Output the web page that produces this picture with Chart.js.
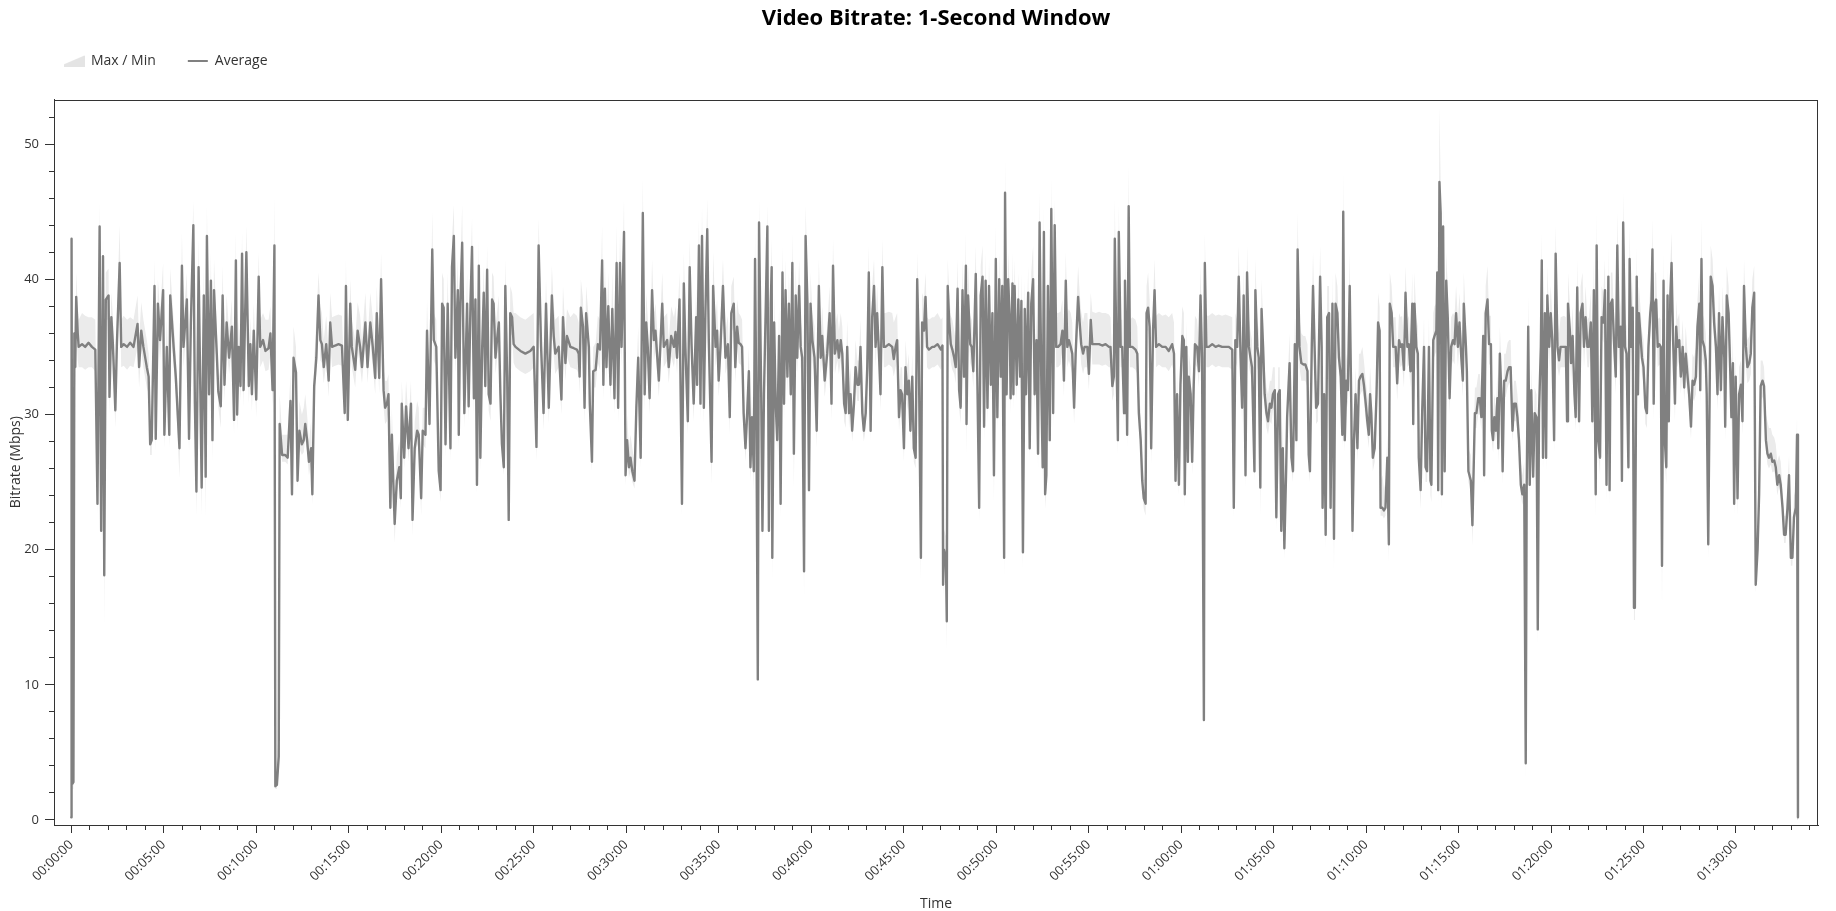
<!DOCTYPE html>
<html><head><meta charset="utf-8">
<script src="https://cdn.jsdelivr.net/npm/chart.js"></script>
<style>html,body{margin:0;padding:0;background:#fff}#wrap{width:1836px;height:911px;position:relative}</style>
</head><body><div id="wrap"><canvas id="c"></canvas></div>
<script>
// ---- data (time in seconds, bitrate in Mbps) ----
const seconds = [
0,1,4,7,10,13,16,21,24,35,45,56,67,78,85,92,97,103,107,112,121,124,130,135,143,148,157,162,170,181,191,202,215,220,227,234,245,251,256,261,270,274,281,288,298,302,310,318,321,332,339,351,359,364,375,382,388,396,401,406,413,418,423,430,436,440,447,453,458,463,472,477,485,491,497,504,512,521,528,534,538,
543,549,554,559,568,576,581,586,592,600,608,613,622,630,640,646,653,659,662,667,673,676,684,694,702,711,716,721,729,734,740,748,754,759,765,771,778,782,788,795,802,808,813,819,827,835,840,846,856,867,878,887,891,897,905,910,921,929,937,943,954,961,970,978,986,991,999,1005,1013,1018,1024,1029,1035,1040,1045,1049,1056,1064,1069,1072,1080,1086,1094,1102,1107,
1114,1122,1127,1135,1140,1149,1154,1162,1171,1176,1184,1192,1198,1203,1208,1214,1221,1230,1235,1241,1246,1254,1257,1262,1268,1275,1284,1289,1295,1300,1306,1311,1316,1322,1327,1333,1338,1343,1349,1354,1360,1365,1370,1376,1381,1387,1392,1397,1403,1408,1414,1419,1424,1430,1435,1441,1457,1473,1489,1500,1509,1516,1524,1532,1540,1549,1559,1565,1570,1581,1590,1595,1603,1608,1619,1630,1640,1646,1649,1653,1660,1665,1670,
1679,1682,1689,1693,1701,1708,1715,1722,1726,1731,1736,1742,1749,1755,1762,1769,1774,1780,1785,1793,1798,1803,1809,1814,1820,1827,1833,1839,1847,1854,1860,1865,1870,1876,1884,1890,1895,1906,1917,1922,1933,1938,1946,1955,1960,1965,1973,1981,1987,1992,2000,2006,2012,2019,2027,2030,2036,2041,2046,2052,2057,2063,2068,2077,2082,2090,2095,2100,2106,2114,2122,2130,2136,2141,2149,2154,2160,2165,2171,2176,2181,2187,2192,2198,2203,2208,2214,2218,2222,2227,2231,2238,
2242,2247,2253,2258,2263,2269,2272,2274,2280,2285,2290,2296,2301,2307,2312,2317,2323,2328,2334,2339,2344,2350,2355,2361,2366,2371,2377,2382,2388,2393,2398,2404,2411,2418,2425,2431,2436,2444,2452,2460,2466,2471,2477,2485,2490,2496,2501,2507,2512,2517,2523,2528,2533,2539,2544,2550,2555,2560,2566,2571,2577,2582,2587,2593,2598,2604,2609,2614,2620,2625,2631,2636,2641,2652,2663,2668,2674,2679,2685,2690,2695,2701,2706,2712,2717,2722,2728,2733,2739,2744,2749,2756,2760,2766,2771,2776,2782,2793,
2799,2810,2821,2826,2828,2831,2837,2840,2843,2848,2853,2858,2864,2869,2875,2880,2885,2891,2896,2902,2904,2909,2916,2921,2926,2934,2939,2945,2950,2956,2961,2966,2972,2977,2983,2988,2993,2999,3004,3010,3015,3020,3026,3029,3034,3039,3044,3047,3053,3056,3060,3067,3072,3078,3082,3087,3093,3097,3104,3109,3114,3120,3125,3131,3136,3141,3147,3151,3155,3159,3163,3168,3174,3179,3185,3190,3195,3201,3209,3215,3220,3226,3231,3236,3242,3247,3253,3258,3266,3271,3276,3282,3287,3296,3301,3307,3312,3323,3334,3344,3355,3366,
3371,3377,3382,3385,3390,3395,3398,3404,3409,3415,3418,3422,3425,3430,3434,3442,3452,3458,3463,3469,3474,3479,3485,3488,3493,3498,3503,3509,3514,3519,3528,3539,3550,3560,3571,3577,3582,3587,3593,3598,3604,3609,3612,3617,3622,3625,3631,3636,3641,3645,3652,3658,3663,3668,3674,3677,3682,3690,3701,3712,3722,3733,3744,3755,3766,3771,3776,3782,3787,3793,3798,3803,3809,3814,3820,3825,3830,3838,3841,3847,3852,3857,3861,3866,3871,3877,3882,3888,3893,3898,3904,3909,3915,3920,3925,3930,3935,3941,3944,
3952,3958,3963,3969,3974,3978,3984,3990,3997,4003,4010,4014,4018,4024,4028,4033,4038,4044,4051,4056,4059,4064,4069,4074,4080,4085,4091,4096,4101,4107,4112,4118,4123,4126,4131,4136,4141,4147,4152,4156,4161,4166,4172,4177,4182,4188,4193,4199,4204,4209,4213,4217,4222,4228,4234,4239,4244,4247,4253,4258,4263,4269,4274,4277,4283,4288,4296,4301,4307,4312,4317,4323,4328,4334,4339,4344,4350,4353,4357,4363,4368,4371,4377,4382,4388,4393,4398,4404,4409,4412,4418,4422,4428,4431,4434,4438,4442,4446,4450,4455,4460,4465,4471,4476,4482,4487,4492,4498,4503,4509,4514,4517,
4524,4527,4532,4540,4545,4553,4558,4564,4569,4574,4580,4583,4588,4594,4599,4605,4608,4612,4616,4621,4626,4629,4634,4639,4643,4648,4653,4659,4664,4669,4675,4680,4686,4691,4696,4702,4707,4713,4718,4721,4726,4731,4736,4742,4747,4753,4757,4761,4767,4770,4774,4780,4784,4788,4794,4799,4804,4810,4815,4821,4826,4831,4842,4848,4852,4855,4861,4865,4870,4876,4880,4885,4891,4896,4902,4907,4912,4918,4923,4929,4934,4939,4945,4948,4953,4959,4964,4970,4975,4980,4986,4990,4994,4999,5004,5010,5015,5020,5026,5030,5034,5040,5045,5051,5055,5060,5065,5069,5072,5078,5082,5085,
5089,5095,5100,5106,5111,5116,5122,5126,5129,5133,5137,5141,5146,5151,5156,5160,5165,5169,5174,5178,5182,5187,5191,5196,5202,5206,5210,5216,5221,5227,5232,5237,5243,5248,5254,5259,5264,5270,5275,5281,5284,5288,5291,5297,5302,5305,5310,5315,5318,5324,5329,5335,5340,5345,5351,5356,5362,5365,5370,5376,5381,5385,5390,5394,5399,5405,5410,5416,5421,5426,5432,5437,5443,5448,5453,5459,5464,5470,5475,5480,5486,5491,5497,5502,5507,5513,5518,5524,5529,5534,5540,5545,5551,5556,5561,5567,5572,5578,5583,5588,5594,5598,5601
];
const average = [
0.2,43,2.7,2.8,36,33.5,38.7,36,35,35.2,35,35.3,35,34.8,23.4,43.9,21.4,41.7,18.1,38.5,38.8,31.3,37.2,35.2,30.3,35.2,41.2,35,35.2,35,35.3,35,36.7,33.5,36.2,35,33.5,32.8,27.8,28.1,39.5,28.2,38.2,35.5,39.2,28.5,35,28.5,38.8,35,32.8,27.5,41,35,38.5,28.2,36.8,44,30.8,24.3,40.9,32.8,24.6,38.8,25.4,43.2,31.5,39.9,28.1,39.2,34.5,31.7,30.6,38.8,32.2,36.8,34.2,36.5,29.6,41.4,30,
35,32.1,41.9,31.8,42,32.1,35.2,31.5,36.2,31.1,40.2,35,35.5,34.7,34.9,36,31.8,42.5,2.5,2.6,4.7,29.3,27,27,26.8,31,24.1,34.2,33.1,25.1,28.8,27.8,28.1,29.3,28.1,26.5,27.5,24.1,32.1,34.2,38.8,35.5,35.2,33.5,35.2,32.5,36.8,35,35.1,35.2,35.1,30.1,39.5,29.6,38.2,35,33.3,36.2,35,33.5,36.8,33.5,36.8,35,32.7,37.5,32.7,40,31.8,30.5,30.8,31.5,23.1,28.5,24.8,21.9,25.1,26.1,23.8,30.8,26.8,30.6,27.5,30.8,22.2,
27.5,28.8,28.5,23.8,28.8,28.5,36.2,29.3,42.2,35.5,35,25.8,24.4,38.2,37.9,27.8,38.2,27.5,40.9,43.2,34.2,39.2,28.5,38.2,42.7,30.1,38.2,30.6,38.2,42.4,31.2,38.5,24.8,41,26.8,35,39,32.1,40.7,31.5,30.8,38.5,38.2,34.2,35.5,36.8,31.5,27.8,26.1,39.5,32.8,22.2,37.5,37.2,35.2,35,34.7,34.5,34.7,35,27.6,42.5,35,30.1,38.2,30.5,38.8,35.8,34.5,35,31.1,37.2,33.8,35.8,35,34.9,34.8,34.5,32.8,37.9,36.5,30.5,37.5,
35,30.8,26.5,33.2,33.3,35.2,34.8,41.4,32.2,39.3,33.5,38,32.2,37.8,31.2,41.2,30.5,41.2,35,43.5,25.5,28.1,26.1,26.8,25.8,25.1,30.5,34.2,26.8,44.9,31.5,36.8,35,31.2,39.2,35.5,36.2,32.5,38.2,35,35.5,33.5,35.8,35,36.1,34.2,38.5,23.4,39.7,35,29.5,40.9,35.2,30.8,37.2,32.2,42.5,30.8,43.2,30.5,37.5,43.7,35.5,26.5,39.5,35,36.2,32.5,35,39.5,34.2,35.2,29.8,37.5,38.2,33.5,36.5,35.3,35.2,35,30.1,27.5,29.8,33.2,26.1,29.8,25.8,41.5,31.5,10.4,44.2,31.5,
21.4,31.5,38.2,43.9,21.4,38.2,40.9,19.4,36.8,30.8,28.1,35.8,23.4,40.5,30.8,39.2,32.8,38.2,31.5,41.2,27.1,38.8,34.2,39.5,35,34.2,18.4,43.2,38.2,24.4,38.2,35.5,34.2,28.8,39.5,34.2,35.8,32.5,34.5,37.5,30.8,41,34.5,35.5,34.2,35.5,34.5,30.8,30.1,35,30.1,31.5,28.8,30.8,33.5,32.2,32.2,35,30.1,28.8,30.1,33.5,40.5,28.8,37.2,39.5,35,37.5,34.5,31.5,40.9,35,35,35.2,35,34.1,35,35.5,29.8,31.8,31.5,27.5,33.5,31.5,32.5,28.8,32.8,27.5,26.8,40,35,19.4,36.8,36.2,38.7,35,34.8,35,
35,35.2,34.8,35.1,17.4,20,19.4,14.7,39.5,36.8,35.2,34.8,34.2,33.5,39.3,31.8,30.5,39.2,32.8,41,29.3,38.8,35.2,35,33.2,40.4,32.8,23.1,38.8,40.2,29.1,39.9,30.5,39.5,32.2,37.5,25.5,41.5,29.8,40,32.8,39.5,19.4,46.4,31.5,40,37.2,31.2,39.7,31.5,39.5,32.2,38.5,32.8,38.4,19.8,37.8,31.5,39,27.5,38.2,40,31.5,35.5,27.1,44.2,31.5,26.1,43.5,24.1,25.5,39.5,28.1,45.2,30.1,44,35,35,35.2,36.2,32.5,39.9,35,35.5,35,34.5,30.5,34.5,38.7,36.8,35.2,34.5,35,35,33,37,35.2,35.2,35.2,35.1,35.2,35,
35,32.1,32.8,43,35,28.1,43.5,35,35,30.1,39.9,35,28.5,45.4,35,35,34.8,34.5,30.1,28.1,25.1,23.8,23.4,37.5,37.9,36.5,27.5,36.2,39.2,35,35.2,35,35,34.7,35.2,34.5,25.1,31.5,24.8,32.2,35.8,35.5,24.1,35,26.5,32.8,31.5,26.5,32.2,35.2,35,33.2,38.8,34.2,7.4,41.2,35,35,35.2,35,35.1,35,35,35,34.8,23.1,35.5,35,40.2,34.2,30.5,38.8,25.5,40.5,35,34.2,33.5,25.8,39.2,35,34.2,24.6,37.8,35,31.5,30.1,29.5,30.8,30.5,31.5,31.8,22.4,31.5,31.8,21.4,27.5,20.1,26.1,29.8,
33.8,26.8,25.8,35.2,28.1,42.2,35,33.8,33.7,33.7,33.2,27,25.8,35.2,39.5,35,30.5,30.8,40.2,35,23.1,31.5,21.1,37.2,37.5,23.1,38.2,20.8,38.2,37.5,34.2,32.8,28.5,45,28.1,32.5,31.8,39.5,30.8,21.4,28.1,31.5,27.5,32.5,32.8,33,32.2,30.8,29.5,28.5,31.5,30.1,26.8,27.5,31.5,36.8,36.2,23.1,23.1,22.9,23.1,26.8,20.4,38.2,37.5,35,35,32.3,35.5,35,35.2,33.3,39,35,35.2,33.2,38.2,29.3,38.2,35,34.5,26.8,24.4,30.1,35,26.1,25.8,35,25.1,24.8,35.5,35.8,36.2,40.5,24.4,47.2,44.9,24.1,43.9,25.8,39.9,37.2,31.2,35,35.5,35.2,37.5,35,36.8,34.2,32.5,38.2,
35,33.2,25.8,25.1,21.8,30.1,30.1,31.2,31.2,29.8,35.8,25.5,37.5,38.5,35.2,35.2,28.8,28.1,29.8,28.8,31.2,27.5,34.5,31.5,25.8,32.5,32.5,33.2,33.5,33.5,28.8,30.8,30.8,29.8,28.1,24.8,24.1,24.8,4.2,24.4,36.5,24.8,31.8,25.4,30.1,29.8,14.1,30.1,35,41.4,26.8,37.5,26.8,38.8,35,37.5,35.5,28.1,41.9,35,34,35,35,35,29.5,38.2,36.2,33.8,35.8,31.5,29.8,39.4,29.5,37.5,38.2,35,37.2,35,35,36.8,29.5,39.2,24.1,42.5,28.1,26.8,37.2,36.8,39.2,24.8,40.2,24.4,38.2,38.5,35.5,32.8,42.5,35,36.5,25.1,44.2,35,34.5,26.1,41.5,35,37.9,15.7,15.7,40.2,31.5,37.5,
36.2,34.2,33.5,30.5,30.1,35,37.5,38.5,42.2,30.8,38.2,38.5,35,35.2,35,18.8,39.9,28.1,26.1,38.8,29.5,38.8,41.2,35.5,30.8,36.5,35,35.5,32.8,35,32,34.5,32.8,31.5,29.1,32.5,32.2,32.8,36.5,38.2,31.8,41.5,35.5,35,34,31.5,20.4,32.8,40.2,39.5,36.8,35,31.5,37.5,31.8,37.2,34.2,29.1,38.8,37.5,33.5,29.8,33.8,23.4,32.8,23.8,31.5,32.2,29.5,39.5,35,33.5,33.8,34.5,37.9,39,17.4,20,24.1,32.1,32.5,32.1,28.1,27.1,26.8,27.1,26.5,26.6,26.1,24.8,25.5,24.8,23.1,21.1,21.1,23.1,25.5,19.4,19.4,22.4,23.1,28.5,0.2
];
const maximum = [
1,44.5,6.5,6.5,38,35.5,40.5,38,37,37.5,37.3,37.2,37.2,37,25,45.8,23,43.5,20,40.5,40.8,33,39,37.3,32,37.5,44,37,37.3,37,37.2,37,38.8,35.5,38.3,37,35.5,34.5,29.5,30,41.5,30,40,37.5,41.2,30.5,37,30,40.8,37,34.5,29.5,43.5,37,40.5,30,38.8,45.8,33,26,43,35,26.5,41,27.5,45.5,33.5,42,30,41.5,36.5,33.5,32.5,41,34,38.8,36.2,38.5,31.5,43.5,32,
37,34,43.5,33.5,44,34,37.2,33.5,38.2,33,42,37,37.5,37,37,38,33.5,46.2,4,4.5,6.5,31.5,28.5,28.5,28.5,33,25.5,36.5,35,26.5,31,30,30.5,31.5,30,28,29.5,25.5,34,37,40.5,38,37.5,35.5,37.3,34.5,39,37.2,37.3,37.4,37.3,32,41.5,31.5,40,37,35.5,38.3,37.3,35.5,39,35.5,39,37.2,34.7,39.5,34.7,42,33.5,32.5,32.5,33,24.5,30.5,26.5,23.5,27,28,25.5,32.5,29,32.5,29.5,32.5,24,
29.5,31,30.5,25.5,30.5,30.5,38.5,31,45,37.5,37,28,26,40.5,40,29.5,40.5,29.5,43,45.5,36.5,41.5,30.5,40.5,45.5,32,40.5,32.5,40.5,44.5,33,40.5,26.5,43,28.5,37,41,34,42.5,33.5,32.5,40.5,40.2,36.5,37.5,38.8,33.5,29.5,28,41.5,35,24,39.5,39,37.5,37.5,37.2,37,37.3,37.5,29.5,44.5,37.5,32,40,32.5,41,38,37,37.3,33,39.5,36,37.8,37.2,37.5,37.3,36.8,34.5,40,38.5,32.5,39.5,
37,32.5,28,35,35.3,37.3,37,44,34,41.5,35.5,40.5,34,40.5,33,44,32.5,43.5,37,46,27,30,27.5,28.5,27.5,26.5,32.5,36.5,28.5,47.5,33.5,39,37.2,33,41.5,37.5,38.2,34.5,40.5,37.2,37.5,35.5,38,37.2,38,36.2,40.5,25,42,37,31.5,43,37.3,32.5,39.5,34,44.5,32.5,45.5,32.5,39.5,46,37.5,28,42,37.2,38.5,34.5,37.2,41.5,36.2,37.3,31.5,39.5,40.2,35.5,38.5,37.5,37.3,37,32,29.5,31.5,35,28,31.5,27.5,43.5,33.5,12,46,33.5,
23,33.5,40.5,45.5,23,40.5,43,21,39,32.5,30,38,25,42.5,32.5,41.5,34.5,40.5,33.5,43.5,29,41,36.2,41.5,37,36.2,20,45.5,40.5,26,40.5,37.5,36.5,30.5,41.5,36.2,38,34.5,36.5,39.5,32.5,43,36.5,37.5,36.2,37.5,36.5,32.5,32,37,32,33.5,30.5,32.5,35.5,34,34,37,32,30.5,32,35.5,42.5,30.5,39.5,41.5,37,39.5,36.5,33.5,43,37.5,37.5,37.6,37.5,36.8,37.2,37.5,31.5,33.5,33.5,29,35.5,33.5,34.5,30.5,34.5,29,28.5,42,37,21,39,38.5,40.5,37.2,37,37.2,
37.2,37.5,37,37.2,19,21.5,21,16,41.5,39,37.3,37,36.2,35.5,41.5,33.5,32.5,41.5,34.5,43.5,31,41,37.3,37,35,42.5,34.5,24.5,41,42.5,31,42,32.5,41.5,34,39.5,27,44,31.5,42,34.5,41.5,21,49,33.5,42,39.5,33,42,33.5,41.5,34,40.5,34.5,40.5,21.5,40,33.5,41,29,40.5,42.5,33.5,37.5,29,46.5,33.5,28,45.5,26,27,41.5,30,47.5,32,46,37.5,37.5,37.6,38.5,34.5,42,37.5,37.8,37.5,36.8,32.5,36.8,41,39,37.6,36.8,37.5,37.5,35,39,37.6,37.5,37.6,37.5,37.5,37.4,
37.2,34,34.5,46,37,30,45.5,37,37,32,42,37,30,48.5,37,37.2,37,36.5,32,30,27,25.5,25,39.5,40.5,38.5,29.5,38.3,41.5,37.3,37.5,37.3,37.4,37.2,37.5,36.8,27,33.5,26.5,34.5,38,37.5,25.5,37,28,34.5,33.5,28,34,37.3,37,35,41,36.2,9,43.5,37.3,37.3,37.5,37.3,37.4,37.3,37.4,37.3,37.2,24.5,37.5,37,42.5,36.2,32.5,41,27,42.5,37,36.2,35.5,27.5,41.5,37,36.2,26,40,37,33.5,32,31.5,32.5,32.5,33.5,33.5,24,33.5,33.5,23,29.5,21.5,28,31.5,
36,28.5,27.5,37.3,30,45,37.2,36,35.8,35.8,35.2,29,27.5,37.3,42,37,32.5,32.5,42.5,37,25,33.5,23,39.5,39.5,25,40.5,22.5,40.5,39.5,36.2,34.5,30,48,30,34.5,33.5,42,32.5,23,30,33.5,29.5,34.5,34.5,35,34,32.5,31.5,30.5,33.5,32,28.5,29.5,33.5,39,38,25,25.5,24.5,25,28.5,22,40.5,39.5,37.2,37.2,34.5,37.5,37.2,37.3,35.5,41,37,37.3,35.3,40.5,31,40.5,37.2,36.5,28.5,26,32,37.2,28,27.5,37.2,27,26.5,37.5,38,38.2,42.5,26,52.8,47,26,46,27.5,42,39.5,33,37.2,37.5,37.3,39.5,37,39,36.2,34.5,40.5,
37,35,27.5,27,23.5,32,32,33,33,31.5,38,27.5,39.5,41,37.3,37.3,30.5,30,31.5,30.5,33,29.5,36.5,33.5,27.5,34.5,34.5,35.3,35.5,35.5,30.5,32.5,32.5,31.5,30,26.5,25.5,26.5,5.5,26,38.8,26.5,33.5,27,32,31.5,15.5,32,37,43.5,28.5,39.5,28.5,41,37,39.5,37.5,30,44,37,36,37.2,37.3,37.2,31.5,40.5,38.2,35.8,38,33.5,31.5,41.5,31.5,39.5,40.5,37,39.5,37,37.2,39,31.5,41.5,26,45,30,28.5,39.5,39,41.5,26.5,42.5,26,40.5,40.5,37.5,34.5,45,37,38.5,26.5,46.5,37,36.5,27.5,44,37,40,17,17,42.5,33.5,39.5,
38.3,36.2,35.5,32.5,32,37,39.5,40.5,44.5,32.5,40.5,40.5,37,37.2,37,20.5,42,30,28,41,31.5,41,43.5,37.5,32.5,38.5,37,37.5,34.5,37,34,36.5,34.5,33.5,31,34.5,34.2,35,38.5,40.5,33.5,44.5,37.5,37,36,33.5,22,34.5,42.5,41.5,39,37,33.5,39.5,33.5,39.5,36.2,31,41,39.5,35.5,31.5,35.8,25,34.5,25.5,33.5,34,31.5,41.5,37,35.5,35.8,36.5,40,41,19,21.5,25.5,34,34,33.5,30,29.5,29,29,28.5,28.3,27.8,26.5,27,26.5,24.5,22.5,22.5,24.5,27,20.5,20.5,24,24.5,30,0.5
];
const minimum = [
0,41,2.3,2.3,33,32,36.5,34,33.5,33.5,33.3,33.5,33.5,33.2,22.5,42,20.5,39.5,14.2,37,37,30,35.5,33.8,29,33.8,39.5,33.5,33.6,33.3,33.6,33.5,35,32,34.7,33.5,32,31.5,27,27,37.5,27.2,36.5,34,37.5,27.5,33.5,27.5,37,33.5,31.5,25.3,39,33.5,36.5,27.2,35,42,29.5,22.5,39,31.5,22.5,37,22.3,41,30,38,26.5,37.5,33,30.5,29,37,31,35,33,35,28.5,39.5,28.8,
33.5,31,40,30.5,40,30.8,33.8,30.2,34.8,29.8,38.5,33.5,34,33.2,33.3,34.5,30.5,40.5,2.3,2.3,4.2,28,26.5,26.5,26.3,29.5,23.5,33,32,24.5,27.5,27,27.2,28.2,27.2,25.5,26.5,23.3,31,33,37,34,33.8,32.3,33.8,31.3,35.3,33.5,33.6,33.7,33.6,29.5,37.5,29,36.5,33.5,32,34.8,33.5,32.3,35.3,32.3,35.3,33.5,31.5,36,31.5,38,30.5,29.3,29.5,30.3,22.2,27.5,23.8,20.5,24.2,25.2,23,29.5,26,29.5,26.5,29.5,21,
26.5,27.8,27.5,22.5,27.8,27.5,34.5,28.3,40,34,33.5,25,23.5,36.5,36,26.8,36.5,26.5,39,41,33,37.5,27.5,36.5,40.5,29,36.5,29.5,36.5,40.5,30,36.8,24,39,25.8,33.5,37.2,31,39,30.3,29.5,36.8,36.5,33,34,35.3,30.3,26.8,25.5,37.5,31.5,21.5,36,35.8,33.8,33.5,33.2,33,33.2,33.5,26.5,40.5,33.5,28.8,36.5,29.3,37,34.3,33,33.5,30,35.7,32.5,34.3,33.5,33.4,33.3,33,31.5,36.3,35,29.3,36,
33.5,29.5,25.8,32,32,33.8,33.3,39.5,31,37.5,32.3,36.3,31,36,30,39.5,29.3,39.5,33.5,41.5,24.7,27.2,25.3,25.8,25,24.5,29.3,33,26,43,30.3,35.3,33.5,30,37.5,34,34.7,31.3,36.5,33.5,34,32.3,34.3,33.5,34.6,33,36.8,22.5,38,33.5,28.5,39,33.8,29.5,35.7,31,40.5,29.5,41,29.3,36,41.5,34,24.8,37.5,33.5,34.7,31.3,33.5,37.5,33,33.8,28.5,36,36.5,32.3,35,33.8,33.7,33.5,29,26.5,28.8,32,25,28.8,24.3,39.5,30.3,9.8,42.5,30.3,
20.5,30.3,36.5,42,20.5,36.5,39,17.6,35.3,29.5,27.2,34.3,22.3,38.8,29.5,37.5,31.5,36.5,30.3,39.5,24.5,37,33,37.8,33.5,33,16.5,41.5,36.5,23.5,36.5,34,33,27.5,37.8,33,34.3,31.3,33,36,29.5,39,33,34,33,34,33,29.5,29,33.5,29,30.3,28,29.5,32.3,31,31,33.5,29,28,29,32.3,38.8,28,35.7,37.8,33.5,36,33,30.3,39,33.5,33.5,33.7,33.5,32.8,33.5,34,28.8,30.5,30.3,26.5,32.3,30.3,31.3,28,31.5,26.5,26,38,33.5,17.7,35.3,34.7,37,33.5,33.3,33.5,
33.5,33.7,33.3,33.6,16.5,19,18.5,12.5,37.8,35.3,33.8,33.3,33,32.3,37.5,30.5,29.3,37.5,31.5,39,27,37,33.8,33.5,32,38.5,31.5,22,37,38.5,28,38,29.3,37.8,31,36,23.5,39.5,28.8,38,31.5,37.8,17.8,44.5,30.3,38,35.7,30,38,30.3,37.8,31,36.8,31.5,36.7,18.5,36.2,30.3,37.3,26.5,36.5,38,30.3,34,26,42.5,30.3,25,41.5,23,24.5,37.8,27,43.5,29,42,33.5,33.5,33.7,34.7,31.3,38,33.5,34,33.5,33,29.3,33,37,35.3,33.7,33,33.5,33.5,31.8,35.5,33.7,33.7,33.7,33.6,33.7,33.5,
33.5,31,31.5,41,33.5,27,41.5,33.5,33.5,29,38,33.5,27.5,43.5,33.5,33.5,33.3,33,29,27,24.3,23,22.5,36,36.3,35,26.3,34.7,37.5,33.5,33.7,33.5,33.5,33.2,33.7,33,24.5,30.3,24,31,34.3,34,23,33.5,25.8,31.5,30.3,25.5,31,33.7,33.5,32,37,33,6.8,39.5,33.5,33.5,33.7,33.5,33.6,33.5,33.5,33.5,33.3,22.3,34,33.5,38.5,33,29.3,37,24.5,38.8,33.5,33,32.3,25,37.5,33.5,33,22.5,36.2,33.5,30.3,29,28.5,29.5,29.3,30.3,30.5,21.5,30.3,30.5,20.5,26.5,19.3,25,28.8,
32.5,26,25,33.8,27.2,40.5,33.5,32.5,32.5,32.5,32,26,25,33.8,37.8,33.5,29.3,29.5,38.5,33.5,22,30.3,20,35.7,36,22,36.5,18.3,36.5,36,33,31.5,27.5,43,27.2,31.3,30.5,37.8,29.5,20.5,27.2,30.3,26.5,31.3,31.5,31.8,31,29.5,28.5,27.5,30.3,29,25.8,26.5,30.3,35.3,34.7,22.5,22.5,22.3,22.5,25.8,19,36.5,36,33.5,33.5,31,34,33.5,33.7,32,37.3,33.5,33.7,32,36.5,28.3,36.5,33.5,33,25.8,23,29,33.5,25,25,33.5,24,23.5,34,34.3,34.7,38.8,23.2,45.5,43,22.8,42,25,38,35.7,30,33.5,34,33.7,36,33.5,35.3,33,31.3,36.5,
33.5,32,25,24.3,20.3,29,29,30,30,28.8,34.3,24.8,36,36.8,33.7,33.7,28,27.2,28.8,28,30,26.3,33,30.3,24.8,31.3,31.3,32,32.3,32.3,28,29.5,29.5,28.8,27.2,24,23.3,24,3,23.5,35,24,30.5,24.5,29,28.8,12.8,29,33.5,39.5,25.8,36,25.8,37,33.5,36,34,27.2,40,33.5,32.8,33.5,33.5,33.5,28.5,36.5,34.7,32.5,34.3,30.3,28.8,37.7,28.5,36,36.5,33.5,35.7,33.5,33.5,35.3,28.5,37.5,22.3,40.5,27.2,25.5,35.7,35.3,37.5,23.5,38.5,23.2,36.5,36.8,34,31.5,40.5,33.5,35,24.2,42.5,33.5,33,25.3,39.5,33.5,36.3,14.8,14.8,38.5,30.3,36,
34.7,33,32.3,29.3,29,33.5,36,36.8,40.5,29.5,36.5,36.8,33.5,33.7,33.5,15.5,38,26.5,24.8,37,28.5,37,39.5,34,29.5,35,33.5,34,31.5,33.5,31,33,31.5,30.3,28.2,31.3,31,31.5,35,36.5,30.5,39.5,34,33.5,32.8,30.3,19.3,31.5,38.5,37.8,35.3,33.5,30.3,36,30.5,35.7,33,28,37,36,32.3,28.8,32.5,22.5,31.5,22.5,30.3,31,28.5,37.8,33.5,32.3,32.5,33,36.3,37.3,16.8,19.3,23.3,31,31.3,31,27.3,26.3,26,26.3,25.7,25.8,25.3,24,24.7,24,22.5,20.5,20.5,22.5,24.7,18.8,18.8,21.8,22.5,27.5,0
];
const seriesLabels = ['Max / Min', 'Average'];
const xMajorTicks = [0,300,600,900,1200,1500,1800,2100,2400,2700,3000,3300,3600,3900,4200,4500,4800,5100,5400];
const yMajorTicks = [0,10,20,30,40,50];
const yMinorTicks = [0,2,4,6,8,10,12,14,16,18,20,22,24,26,28,30,32,34,36,38,40,42,44,46,48,50,52];
const xMinorTicks = []; for (let s = 0; s <= 5640; s += 60) xMinorTicks.push(s);

// ---- presentation ----
const X_MIN = -56, X_MAX = 5666, Y_MIN = -0.37, Y_MAX = 53.3;
const FONT = "'Open Sans', 'Noto Sans', sans-serif";
const LINE = '#808080', BAND = '#ebebeb', INK = '#333333';
Chart.defaults.font.family = FONT;

const toHMS = s => { const h = Math.floor(s / 3600), m = Math.floor(s % 3600 / 60), x = Math.round(s % 60);
  return [h, m, x].map(v => String(v).padStart(2, '0')).join(':'); };

const n = Math.min(seconds.length, average.length, maximum.length, minimum.length);
const pts = arr => seconds.slice(0, n).map((t, i) => ({x: t, y: arr[i]}));

const wedge = document.createElement('canvas');
wedge.width = 21; wedge.height = 12;
(function(){ const g = wedge.getContext('2d'); g.fillStyle = '#e4e4e4'; g.beginPath();
  g.moveTo(0, 12); g.lineTo(0, 9.5); g.lineTo(21, 0.5); g.lineTo(21, 12); g.closePath(); g.fill(); })();

const frame = {
  id: 'frame',
  beforeInit(chart) {
    const lg = chart.legend; if (!lg || lg._spaced) return;
    const fit = lg.fit; lg._spaced = true;
    lg.fit = function () { fit.call(this); this.height += 21.5; };
  },
  afterLayout(chart) {
    const lg = chart.legend; if (!lg) return;
    const w = lg.right - lg.left; lg.left = 32; lg.right = 32 + w;
  },
  afterDraw(chart) {
    const {ctx, chartArea: a} = chart;
    ctx.save(); ctx.strokeStyle = INK; ctx.lineWidth = 1;
    ctx.strokeRect(Math.round(a.left) + 0.5, Math.round(a.top) + 0.5, Math.round(a.right - a.left) - 1, Math.round(a.bottom - a.top) - 1);
    ctx.restore();
  }
};

const tickFont = {size: 13, family: FONT};
new Chart(document.getElementById('c'), {
  type: 'line',
  data: { datasets: [
    {label: seriesLabels[0], data: pts(maximum), parsing: false, borderColor: 'rgba(0,0,0,0)', borderWidth: 0, pointRadius: 0, backgroundColor: BAND, fill: '+1', order: 1, tension: 0},
    {label: 'min', data: pts(minimum), parsing: false, borderColor: 'rgba(0,0,0,0)', borderWidth: 0, pointRadius: 0, backgroundColor: BAND, fill: false, order: 1, tension: 0},
    {label: seriesLabels[1], data: pts(average), parsing: false, borderColor: LINE, borderWidth: 2.4, pointRadius: 0, fill: false, order: 0, tension: 0, borderJoinStyle: 'round', borderCapStyle: 'round'}
  ]},
  options: {
    responsive: true, maintainAspectRatio: false, animation: false, events: [],
    layout: {padding: {left: 0, right: 18, top: 0, bottom: 0}},
    plugins: {
      tooltip: {enabled: false},
      title: {display: true, text: 'Video Bitrate: 1-Second Window', fullSize: false, color: '#000',
        font: {size: 22, weight: 'bold', family: FONT}, padding: {top: 5.5, bottom: -9.9}},
      legend: {display: true, position: 'top', align: 'start',
        labels: {usePointStyle: true, pointStyleWidth: 20, padding: 32, color: INK, font: {size: 14, family: FONT},
          generateLabels: () => [
            {text: seriesLabels[0], pointStyle: wedge, fillStyle: BAND, strokeStyle: BAND, lineWidth: 0, hidden: false, datasetIndex: 0, fontColor: INK},
            {text: seriesLabels[1], pointStyle: 'line', fillStyle: LINE, strokeStyle: LINE, lineWidth: 2, hidden: false, datasetIndex: 2, fontColor: INK}
          ]}}
    },
    scales: {
      x: {type: 'linear', position: 'bottom', min: X_MIN, max: X_MAX, weight: 0,
        afterBuildTicks: s => { s.ticks = xMajorTicks.map(v => ({value: v})); },
        afterFit: s => { s.height = 86; },
        ticks: {autoSkip: false, minRotation: 45, maxRotation: 45, padding: 4, color: INK, font: tickFont, callback: v => toHMS(v)},
        grid: {drawOnChartArea: false, drawTicks: true, tickLength: 8, color: INK},
        border: {display: true, color: INK, width: 1},
        title: {display: true, text: 'Time', color: INK, font: {size: 14, family: FONT}, padding: {top: 0, bottom: -1.4}}},
      x2: {type: 'linear', position: 'bottom', min: X_MIN, max: X_MAX, weight: -1,
        afterBuildTicks: s => { s.ticks = xMinorTicks.map(v => ({value: v})); },
        afterFit: s => { s.height = 0; },
        ticks: {display: false, autoSkip: false},
        grid: {drawOnChartArea: false, drawTicks: true, tickLength: 5, color: INK},
        border: {display: false}},
      y: {type: 'linear', position: 'left', min: Y_MIN, max: Y_MAX, weight: 0,
        afterBuildTicks: s => { s.ticks = yMajorTicks.map(v => ({value: v})); },
        afterFit: s => { s.width = 54; },
        ticks: {padding: 6, color: INK, font: tickFont},
        grid: {drawOnChartArea: false, drawTicks: true, tickLength: 9, color: INK},
        border: {display: true, color: INK, width: 1},
        title: {display: true, text: 'Bitrate (Mbps)', color: INK, font: {size: 14, family: FONT}, padding: {top: 7.6, bottom: 0}}},
      y2: {type: 'linear', position: 'left', min: Y_MIN, max: Y_MAX, weight: -1,
        afterBuildTicks: s => { s.ticks = yMinorTicks.map(v => ({value: v})); },
        afterFit: s => { s.width = 0; },
        ticks: {display: false},
        grid: {drawOnChartArea: false, drawTicks: true, tickLength: 5, color: INK},
        border: {display: false}}
    }
  },
  plugins: [frame]
});
</script>
</body></html>
